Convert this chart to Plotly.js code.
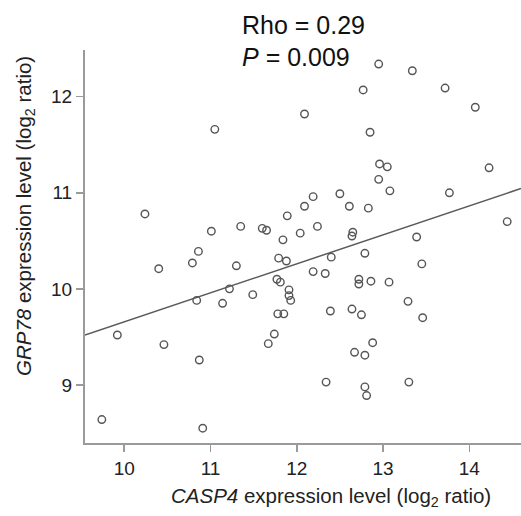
<!DOCTYPE html>
<html>
<head>
<meta charset="utf-8">
<script src="https://cdn.plot.ly/plotly-3.0.1.min.js"></script>
<style>html,body{margin:0;padding:0;background:#fff;}#chart{width:521px;height:516px;}</style>
</head>
<body>
<div id="chart"></div>
<script>
// CASP4 expression (log2 ratio)
const casp4 = [12.95,13.34,12.77,13.72,14.07,12.09,11.05,12.85,10.24,11.01,10.86,12.96,13.05,12.95,13.08,13.77,14.23,14.44,13.39,13.45,
10.40,10.79,11.35,11.30,11.22,10.84,11.14,11.49,11.60,11.65,11.84,11.89,11.79,11.88,11.77,11.81,11.91,11.91,11.93,12.04,
12.09,12.19,12.24,12.19,12.33,12.40,12.50,12.61,12.83,12.79,12.72,12.72,12.86,13.07,13.29,12.65,12.64,11.78,11.85,12.39,
12.64,12.75,13.46,11.74,11.67,12.88,12.67,12.79,12.34,12.79,12.81,13.30,9.92,10.46,10.87,9.74,10.91];
// GRP78 expression (log2 ratio)
const grp78 = [12.34,12.27,12.07,12.09,11.89,11.82,11.66,11.63,10.78,10.60,10.39,11.30,11.27,11.14,11.02,11.00,11.26,10.70,10.54,10.26,
10.21,10.27,10.65,10.24,10.00,9.88,9.85,9.94,10.63,10.61,10.51,10.76,10.32,10.29,10.10,10.07,9.99,9.93,9.88,10.58,
10.86,10.96,10.65,10.18,10.16,10.33,10.99,10.86,10.84,10.37,10.10,10.05,10.08,10.07,9.87,10.59,10.55,9.74,9.74,9.77,
9.79,9.73,9.70,9.53,9.43,9.44,9.34,9.31,9.03,8.98,8.89,9.03,9.52,9.42,9.26,8.64,8.55];
const xTicks = [10,11,12,13,14];
const yTicks = [9,10,11,12];
const xRange = [9.545, 14.6];
const yRange = [8.396, 12.486];

// least-squares fit line
const n = casp4.length;
const mx = casp4.reduce((a,b)=>a+b,0)/n;
const my = grp78.reduce((a,b)=>a+b,0)/n;
let sxy=0, sxx=0;
for(let i=0;i<n;i++){ sxy+=(casp4[i]-mx)*(grp78[i]-my); sxx+=(casp4[i]-mx)**2; }
const slope = sxy/sxx, icpt = my - slope*mx;
const fitX = [xRange[0], xRange[1]];
const fitY = fitX.map(v => icpt + slope*v);

const font = 'Liberation Sans, Arial, sans-serif';
const data = [
  {x: fitX, y: fitY, mode:'lines', type:'scatter', line:{color:'#5a5a5a', width:1.5}, hoverinfo:'skip'},
  {x: casp4, y: grp78, mode:'markers', type:'scatter',
   marker:{symbol:'circle-open', size:7.5, color:'#555', line:{width:1.4}}}
];
const axisCommon = {showgrid:false, zeroline:false, showline:true, linecolor:'#9a9a9a', linewidth:2,
  ticks:'outside', ticklen:7, tickwidth:1.5, tickcolor:'#9a9a9a', tickfont:{family:font, size:19, color:'#222'}};
const layout = {
  width:521, height:516, showlegend:false,
  paper_bgcolor:'#fff', plot_bgcolor:'#fff',
  margin:{l:85, r:0, t:50, b:73},
  xaxis: Object.assign({}, axisCommon, {range:xRange, tickvals:xTicks, ticktext:xTicks.map(String)}),
  yaxis: Object.assign({}, axisCommon, {range:yRange, tickvals:yTicks, ticktext:yTicks.map(String)}),
  annotations:[
    {text:'Rho = 0.29', xref:'paper', yref:'paper', x:0.3555, y:1.0636, xanchor:'left', yanchor:'middle', showarrow:false, font:{family:font, size:25, color:'#111'}},
    {text:'<i>P</i> = 0.009', xref:'paper', yref:'paper', x:0.3555, y:0.982, xanchor:'left', yanchor:'middle', showarrow:false, font:{family:font, size:25, color:'#111'}},
    {text:'<i>CASP4</i> expression level (log<sub>2</sub> ratio)', xref:'paper', yref:'paper', x:0.564, y:-0.1374, xanchor:'center', yanchor:'middle', showarrow:false, font:{family:font, size:20.5, color:'#222'}},
    {text:'<i>GRP78</i> expression level (log<sub>2</sub> ratio)', xref:'paper', yref:'paper', x:-0.1376, y:0.5776, xanchor:'center', yanchor:'middle', textangle:-90, showarrow:false, font:{family:font, size:20.5, color:'#222'}}
  ]
};
Plotly.newPlot('chart', data, layout, {staticPlot:true, displayModeBar:false});
</script>
</body>
</html>
